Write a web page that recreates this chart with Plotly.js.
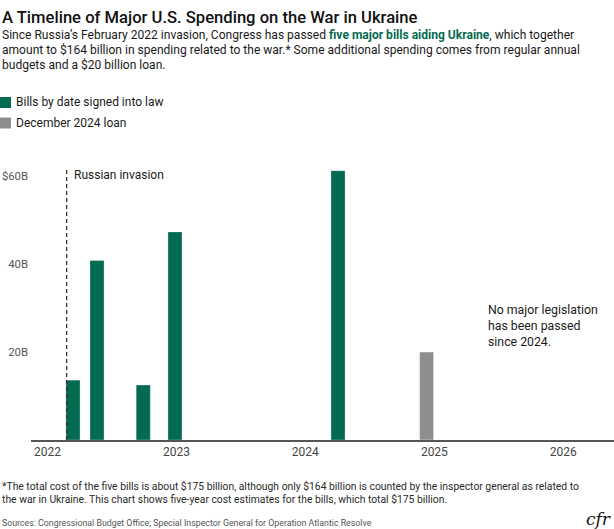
<!DOCTYPE html>
<html>
<head>
<meta charset="utf-8">
<script src="https://cdn.plot.ly/plotly-3.0.1.min.js"></script>
<style>
html,body{margin:0;padding:0;background:#fff;}
#chart{width:614px;height:529px;}
</style>
</head>
<body>
<div id="chart"></div>
<script>
// ---- data ----
const billDates = ["2022-03-14", "2022-05-21", "2022-09-29", "2022-12-28", "2024-04-03"];
const billValues = [13.6, 40.8, 12.5, 47.3, 61.2];
const loanDates = ["2024-12-10"];
const loanValues = [20];
const yTickVals = [20, 40, 60];
const yTickText = ["20B", "40B", "$60B"];
const invasionDate = "2022-02-24";
const seriesNames = ["Bills by date signed into law", "December 2024 loan"];

// ---- layout helpers (pixel -> paper) ----
const W = 614, H = 529, ML = 31, MR = 0, MT = 167, MB = 89;
const PW = W - ML - MR, PH = H - MT - MB;
const px = x => (x - ML) / PW;
const py = y => (H - MB - y) / PH;

const GREEN = "#046a51";
const GRAY = "#8e8e8e";
const FONT = "Roboto, 'Liberation Sans', sans-serif";
const DAY = 86400000;

const traces = [
  {
    type: "bar", x: billDates, y: billValues, name: seriesNames[0],
    width: billDates.map(() => 40 * DAY),
    marker: {color: GREEN, line: {color: "rgba(255,255,255,0.5)", width: 0.6}},
    hoverinfo: "x+y", showlegend: false
  },
  {
    type: "bar", x: loanDates, y: loanValues, name: seriesNames[1],
    width: loanDates.map(() => 40 * DAY),
    marker: {color: GRAY, line: {color: "rgba(255,255,255,0.6)", width: 0.8}},
    hoverinfo: "x+y", showlegend: false
  }
];

function txt(x, y, text, size, color, opts) {
  return Object.assign({
    xref: "paper", yref: "paper", x: px(x), y: py(y), text: text,
    showarrow: false, xanchor: "left", yanchor: "middle", align: "left",
    font: {family: FONT, size: size, color: color}
  }, opts || {});
}

const annotations = [
  txt(0, 17, "A Timeline of Major U.S. Spending on the War in Ukraine", 16.6, "#111", {font: {family: FONT, size: 16.6, color: "#111", weight: 500}}),
  txt(0, 35, "Since Russia’s February 2022 invasion, Congress has passed <b style='color:" + GREEN + "'>five major bills aiding Ukraine</b>, which together", 12.05, "#1a1a1a"),
  txt(0, 50, "amount to $164 billion in spending related to the war.* Some additional spending comes from regular annual", 12.05, "#1a1a1a"),
  txt(0, 65, "budgets and a $20 billion loan.", 12.05, "#1a1a1a"),
  txt(14, 102.5, seriesNames[0], 12, "#1a1a1a"),
  txt(14, 123, seriesNames[1], 12, "#1a1a1a"),
  {xref: "x", yref: "paper", x: invasionDate, y: py(175), text: "Russian invasion", showarrow: false,
   xanchor: "left", yanchor: "middle", xshift: 5, font: {family: FONT, size: 12, color: "#1a1a1a"}},
  txt(486, 326, "No major legislation<br>has been passed<br>since 2024.", 12.3, "#1a1a1a"),
  txt(0, 486, "*The total cost of the five bills is about $175 billion, although only $164 billion is counted by the inspector general as related to", 10.35, "#2a2a2a"),
  txt(0, 499, "the war in Ukraine. This chart shows five-year cost estimates for the bills, which total $175 billion.", 10.35, "#2a2a2a"),
  txt(0, 523, "Sources: Congressional Budget Office; Special Inspector General for Operation Atlantic Resolve", 8.8, "#555"),
  txt(613, 519, "<i>cfr</i>", 17, "#111", {xanchor: "right", font: {family: "'DejaVu Serif', 'Liberation Serif', serif", size: 17, color: "#111"}})
];

const shapes = [
  {type: "line", xref: "x", yref: "paper", x0: invasionDate, x1: invasionDate, y0: 0, y1: 1,
   line: {color: "#333", width: 1.3, dash: "4px,3px"}},
  {type: "rect", xref: "paper", yref: "paper", x0: px(0), x1: px(11), y0: py(97), y1: py(108),
   fillcolor: GREEN, line: {width: 0}},
  {type: "rect", xref: "paper", yref: "paper", x0: px(0), x1: px(11), y0: py(117.5), y1: py(128.5),
   fillcolor: GRAY, line: {width: 0}}
];

const layout = {
  width: W, height: H,
  margin: {l: ML, r: MR, t: MT, b: MB, pad: 0},
  paper_bgcolor: "#fff", plot_bgcolor: "#fff",
  showlegend: false,
  bargap: 0,
  font: {family: FONT, color: "#333"},
  xaxis: {
    type: "date", range: ["2021-11-15", "2026-05-25"],
    tick0: "2022-01-01", dtick: "M12", tickformat: "%Y",
    showgrid: false, zeroline: false, showline: true, linecolor: "#555", linewidth: 1.5,
    ticks: "", tickfont: {family: FONT, size: 12, color: "#444"}, fixedrange: true
  },
  yaxis: {
    range: [0, 62.05], tickvals: yTickVals, ticktext: yTickText,
    showgrid: false, zeroline: false, showline: false, ticks: "",
    tickfont: {family: FONT, size: 11.3, color: "#555"}, ticklabelstandoff: 2, fixedrange: true
  },
  annotations: annotations,
  shapes: shapes
};

Plotly.newPlot("chart", traces, layout, {displayModeBar: false, staticPlot: true});
</script>
</body>
</html>
